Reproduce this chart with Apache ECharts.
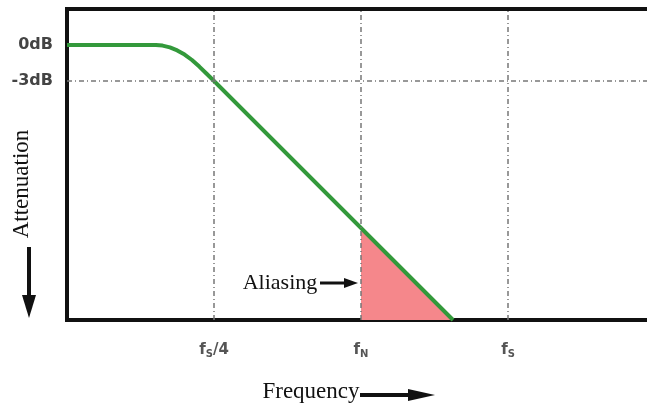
<!DOCTYPE html>
<html>
<head>
<meta charset="utf-8">
<script src="https://cdn.jsdelivr.net/npm/echarts@6/dist/echarts.min.js"></script>
<style>
  html, body { margin: 0; padding: 0; background: #fff; }
  #chart { width: 647px; height: 405px; }
</style>
</head>
<body>
<div id="chart"></div>
<script>
// filter response, frequency in units of fs/4, attenuation in dB
var freq = [0, 0.605, 0.65, 0.7, 0.75, 0.8, 0.85, 0.9, 0.95, 1, 2.626];
var atten = [0, 0, -0.05, -0.2, -0.45, -0.8, -1.25, -1.8, -2.4, -3, -22.92];

// aliased part (above fN)
var aliasFreq = [2, 2.626];
var aliasAtten = [-15.25, -22.92];

// tick labels
var xTicks = [1, 2, 3];
var xTickLabels = ['f{s|S}/4', 'f{s|N}', 'f{s|S}'];
var yTicks = [0, -3];
var yTickLabels = ['0dB', '-3dB'];

var chart = echarts.init(document.getElementById('chart'));

function pairs(xs, ys) {
    return xs.map(function (x, i) { return [x, ys[i]]; });
}

var option = {
    animation: false,
    grid: {
        left: 67, top: 9, bottom: 85, width: 592,
        outerBoundsMode: 'none',
        show: true, borderWidth: 4, borderColor: '#111'
    },
    xAxis: {
        type: 'value', min: 0, max: 4.027,
        axisLine: { show: false },
        axisTick: { show: false },
        splitLine: { show: false },
        axisLabel: {
            customValues: xTicks,
            margin: 21,
            formatter: function (v) {
                var i = xTicks.indexOf(v);
                return i < 0 ? '' : xTickLabels[i];
            },
            color: '#555', fontFamily: 'DejaVu Sans', fontWeight: 'bold', fontSize: 15,
            rich: {
                s: { fontSize: 10, fontFamily: 'DejaVu Sans', fontWeight: 'bold', color: '#555', padding: [8, 0, 0, 0] }
            }
        }
    },
    yAxis: {
        type: 'value', min: -22.92, max: 3,
        axisLine: { show: false },
        axisTick: { show: false },
        splitLine: { show: false },
        axisLabel: {
            customValues: yTicks,
            margin: 14,
            padding: [0, 0, 10, 0],
            formatter: function (v) {
                var i = yTicks.indexOf(v);
                return i < 0 ? '' : yTickLabels[i];
            },
            color: '#444', fontFamily: 'DejaVu Sans', fontWeight: 'bold', fontSize: 16
        }
    },
    series: [
        {
            type: 'line',
            data: pairs(aliasFreq, aliasAtten),
            symbol: 'none',
            lineStyle: { width: 0 },
            areaStyle: { origin: 'start', color: '#f5878b', opacity: 1 },
            z: 1
        },
        {
            type: 'line',
            data: pairs(freq, atten),
            symbol: 'none',
            lineStyle: { color: '#33993b', width: 4, join: 'round' },
            z: 3,
            markLine: {
                silent: true,
                symbol: ['none', 'none'],
                label: { show: false },
                lineStyle: { color: '#777', width: 1.5, type: [5, 3, 1, 3] },
                data: [{ xAxis: 1 }, { xAxis: 2 }, { xAxis: 3 }, { yAxis: -3 }]
            }
        }
    ],
    graphic: [
        {
            type: 'text', x: 22, y: 184, rotation: Math.PI / 2,
            style: {
                text: 'Attenuation', font: '23px "Liberation Serif"', fill: '#111',
                textAlign: 'center', textVerticalAlign: 'middle'
            }
        },
        { type: 'rect', shape: { x: 27, y: 247, width: 4, height: 52 }, style: { fill: '#111' } },
        { type: 'polygon', shape: { points: [[22, 295], [36, 295], [29, 318]] }, style: { fill: '#111' } },
        {
            type: 'text', x: 280, y: 283,
            style: {
                text: 'Aliasing', font: '22px "Liberation Serif"', fill: '#111',
                textAlign: 'center', textVerticalAlign: 'middle'
            }
        },
        { type: 'rect', shape: { x: 320, y: 281.5, width: 28, height: 3 }, style: { fill: '#111' } },
        { type: 'polygon', shape: { points: [[344, 278], [344, 288], [358, 283]] }, style: { fill: '#111' } },
        {
            type: 'text', x: 311, y: 392,
            style: {
                text: 'Frequency', font: '23px "Liberation Serif"', fill: '#111',
                textAlign: 'center', textVerticalAlign: 'middle'
            }
        },
        { type: 'rect', shape: { x: 360, y: 393, width: 52, height: 4 }, style: { fill: '#111' } },
        { type: 'polygon', shape: { points: [[408, 389], [408, 401], [435, 395]] }, style: { fill: '#111' } }
    ]
};

chart.setOption(option);
</script>
</body>
</html>
